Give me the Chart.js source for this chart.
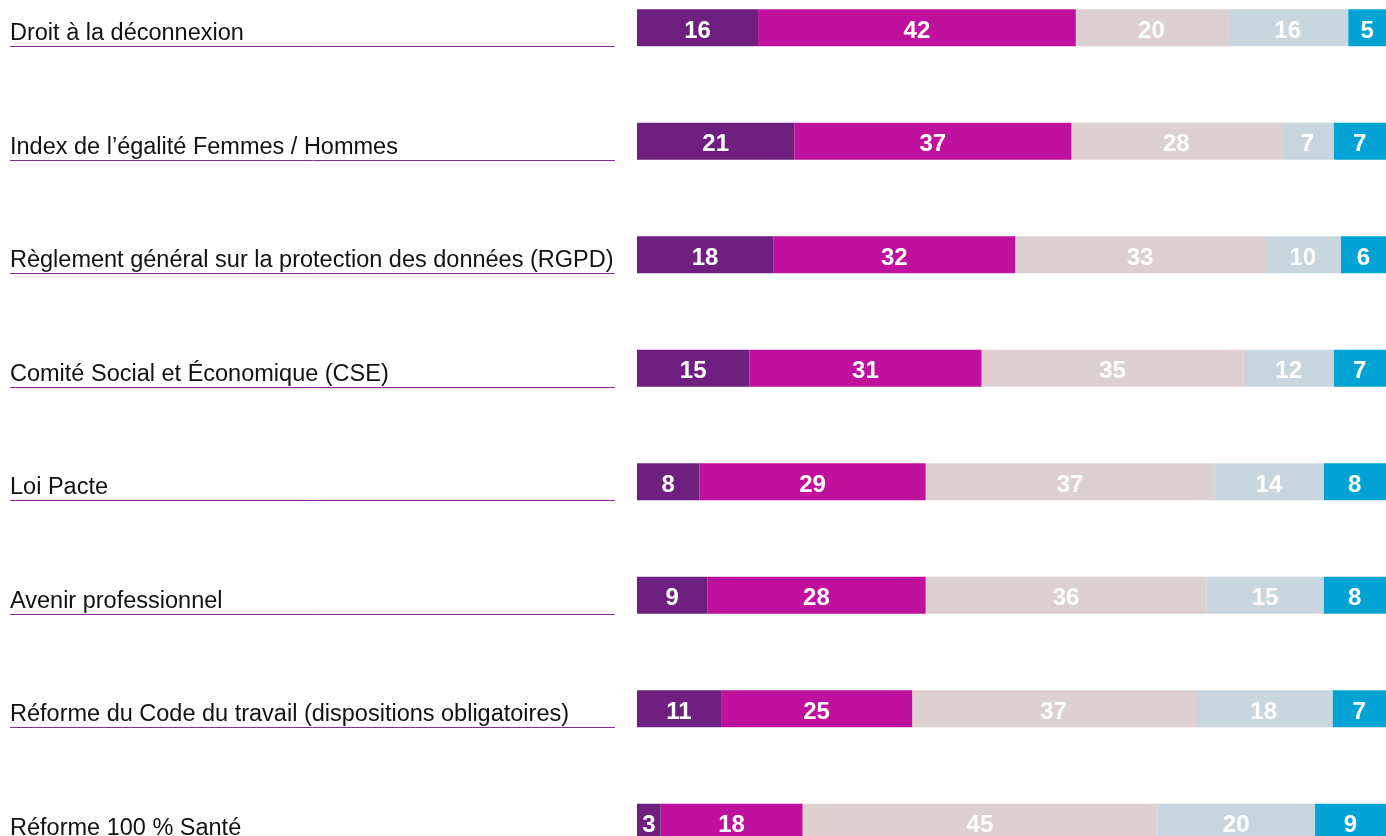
<!DOCTYPE html>
<html lang="fr">
<head>
<meta charset="utf-8">
<title>Connaissance des réformes</title>
<script src="https://cdn.jsdelivr.net/npm/chart.js@4"></script>
<style>
    html, body { margin: 0; padding: 0; background: #fff; overflow: hidden; }
    body { width: 1386px; height: 836px; position: relative; }
    .chart-wrap { position: absolute; left: 0; top: -29px; width: 1386px; height: 908px; }
</style>
</head>
<body>
<div class="chart-wrap"><canvas id="reformChart"></canvas></div>
<script>
const categories = [
    'Droit à la déconnexion',
    'Index de l’égalité Femmes / Hommes',
    'Règlement général sur la protection des données (RGPD)',
    'Comité Social et Économique (CSE)',
    'Loi Pacte',
    'Avenir professionnel',
    'Réforme du Code du travail (dispositions obligatoires)',
    'Réforme 100 % Santé'
];

// one array per segment, left to right
const serie1 = [16, 21, 18, 15, 8, 9, 11, 3];
const serie2 = [42, 37, 32, 31, 29, 28, 25, 18];
const serie3 = [20, 28, 33, 35, 37, 36, 37, 45];
const serie4 = [16, 7, 10, 12, 14, 15, 18, 20];
const serie5 = [5, 7, 6, 7, 8, 8, 7, 9];

const series = [serie1, serie2, serie3, serie4, serie5];
const colors = ['#6e1f80', '#c0119e', '#ded0d0', '#c8d6df', '#00a3d4'];

// each bar fills the full width (shares of the row total)
const totals = categories.map((c, i) => series.reduce((s, arr) => s + arr[i], 0));

const datasets = series.map((arr, k) => ({
    data: arr.map((v, i) => v / totals[i] * 100),
    raw: arr,
    backgroundColor: colors[k],
    borderWidth: 0,
    barPercentage: 0.326,
    categoryPercentage: 1
}));

// category names with purple underline, drawn on the left
const labelPlugin = {
    id: 'rowLabels',
    afterDraw(chart) {
        const ctx = chart.ctx;
        const y = chart.scales.y;
        const half = 113.5 * 0.326 / 2;
        ctx.save();
        ctx.font = '23.5px "Liberation Sans", Arial, sans-serif';
        ctx.fillStyle = '#111';
        ctx.textAlign = 'left';
        ctx.textBaseline = 'alphabetic';
        categories.forEach((name, i) => {
            const lineY = Math.round(y.getPixelForValue(i) + half);
            ctx.fillText(name, 10, lineY - 6);
            ctx.strokeStyle = '#8a2a9c';
            ctx.lineWidth = 1;
            ctx.beginPath();
            ctx.moveTo(10, lineY + 0.5);
            ctx.lineTo(615, lineY + 0.5);
            ctx.stroke();
        });
        ctx.restore();
    }
};

// white numbers in the middle of each segment
const valuePlugin = {
    id: 'segmentValues',
    afterDatasetsDraw(chart) {
        const ctx = chart.ctx;
        ctx.save();
        ctx.font = 'bold 24px "Liberation Sans", Arial, sans-serif';
        ctx.fillStyle = '#fff';
        ctx.textAlign = 'center';
        ctx.textBaseline = 'alphabetic';
        chart.data.datasets.forEach((ds, k) => {
            chart.getDatasetMeta(k).data.forEach((bar, i) => {
                ctx.fillText(String(ds.raw[i]), (bar.x + bar.base) / 2, bar.y + 10);
            });
        });
        ctx.restore();
    }
};

const ctx = document.getElementById('reformChart').getContext('2d');
const reformChart = new Chart(ctx, {
    type: 'bar',
    data: {
        labels: categories,
        datasets: datasets
    },
    options: {
        indexAxis: 'y',
        responsive: true,
        maintainAspectRatio: false,
        animation: false,
        layout: {
            padding: { left: 637, right: 0, top: 0, bottom: 0 }
        },
        scales: {
            x: {
                stacked: true,
                min: 0,
                max: 100,
                display: false
            },
            y: {
                stacked: true,
                display: false
            }
        },
        plugins: {
            legend: { display: false },
            tooltip: { enabled: false }
        }
    },
    plugins: [labelPlugin, valuePlugin]
});
</script>
</body>
</html>
